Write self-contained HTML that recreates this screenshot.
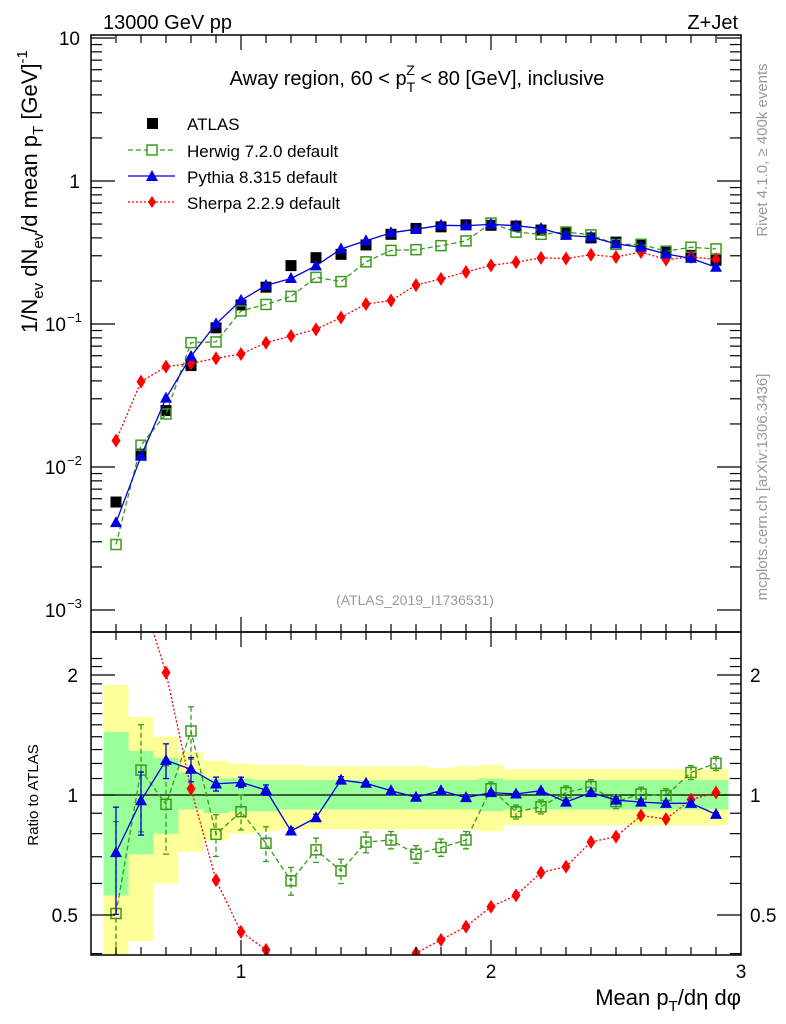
<!DOCTYPE html>
<html><head><meta charset="utf-8"><style>
html,body{margin:0;padding:0;background:#fff;overflow:hidden;width:786px;height:1024px;}
svg{display:block;font-family:"Liberation Sans",sans-serif;}
</style></head><body>
<svg id="chart" width="786" height="1024" viewBox="0 0 786 1024" xmlns="http://www.w3.org/2000/svg">
<g id="bands"></g>
<g id="mainmarks"></g>
<g id="ratiomarks"></g>
<g id="axes"></g>
<text x="103" y="29" font-size="20">13000 GeV pp</text>
<text x="738" y="29" font-size="20" text-anchor="end">Z+Jet</text>
<text x="417" y="85" font-size="20" text-anchor="middle">Away region, 60 &lt; p<tspan font-size="14" dy="7">T</tspan><tspan font-size="14" dx="-9" dy="-17">Z</tspan><tspan dy="10"> &lt; 80 [GeV], inclusive</tspan></text>
<g font-size="17">
<rect x="147" y="118" width="11" height="11" fill="#000"/>
<text x="187" y="130">ATLAS</text>
<line x1="128" y1="150" x2="175" y2="150" stroke="#3a9a1a" stroke-width="1.3" stroke-dasharray="5,3"/>
<rect x="147" y="145" width="10" height="10" fill="#fff" stroke="#3a9a1a" stroke-width="1.5"/>
<text x="187" y="157">Herwig 7.2.0 default</text>
<line x1="128" y1="176" x2="175" y2="176" stroke="#0000e0" stroke-width="1.3"/>
<polygon points="152,170 158,181 146,181" fill="#0000e0"/>
<text x="187" y="183">Pythia 8.315 default</text>
<line x1="128" y1="202" x2="175" y2="202" stroke="#f00" stroke-width="1.3" stroke-dasharray="2,2"/>
<polygon points="152,196 156,202 152,208 148,202" fill="#f00"/>
<text x="187" y="209">Sherpa 2.2.9 default</text>
</g>
<text x="415" y="605" font-size="14" fill="#999" text-anchor="middle">(ATLAS_2019_I1736531)</text>
<text transform="translate(767,150) rotate(-90)" font-size="15" fill="#999" text-anchor="middle">Rivet 4.1.0, ≥ 400k events</text>
<text transform="translate(767,487) rotate(-90)" font-size="15" fill="#999" text-anchor="middle">mcplots.cern.ch [arXiv:1306.3436]</text>
<text transform="translate(37,333) rotate(-90)" font-size="22">1/N<tspan font-size="15" dy="6">ev</tspan><tspan dy="-6"> dN</tspan><tspan font-size="15" dy="6">ev</tspan><tspan dy="-6">/d mean p</tspan><tspan font-size="15" dy="6">T</tspan><tspan dy="-6">  [GeV]</tspan><tspan font-size="15" dy="-10">-1</tspan></text>
<text transform="translate(38,795) rotate(-90)" font-size="15" text-anchor="middle">Ratio to ATLAS</text>
<text x="741" y="1005" font-size="22" text-anchor="end">Mean p<tspan font-size="15" dy="6">T</tspan><tspan dy="-6">/dη dφ</tspan></text>
</svg>
<script>
const xVals=[0.5,0.6,0.7,0.8,0.9,1.0,1.1,1.2,1.3,1.4,1.5,1.6,1.7,1.8,1.9,2.0,2.1,2.2,2.3,2.4,2.5,2.6,2.7,2.8,2.9];
const atlasVals=[0.00569,0.0123,0.0248,0.0512,0.094,0.136,0.181,0.256,0.291,0.307,0.357,0.424,0.466,0.478,0.494,0.49,0.484,0.454,0.434,0.40,0.374,0.359,0.324,0.302,0.279];
const herwigVals=[0.00287,0.0142,0.0235,0.0741,0.0749,0.1235,0.137,0.156,0.212,0.198,0.272,0.327,0.331,0.353,0.381,0.508,0.439,0.424,0.440,0.420,0.360,0.361,0.323,0.344,0.335];
const pythiaVals=[0.00408,0.0119,0.0303,0.0594,0.1002,0.1463,0.1862,0.2079,0.2552,0.3346,0.382,0.4346,0.46,0.49,0.4866,0.4969,0.4869,0.4654,0.4166,0.4056,0.3632,0.3446,0.3088,0.2878,0.2494];
const sherpaVals=[0.0153,0.0395,0.0503,0.0531,0.0575,0.0617,0.074,0.0824,0.0918,0.111,0.138,0.146,0.187,0.207,0.231,0.257,0.271,0.290,0.287,0.305,0.294,0.319,0.282,0.294,0.283];
const herwigRelErr=[0.7,0.3,0.25,0.15,0.12,0.1,0.1,0.08,0.07,0.07,0.06,0.05,0.05,0.05,0.05,0.04,0.04,0.04,0.04,0.04,0.04,0.04,0.04,0.04,0.04];
const pythiaRelErr=[0.3,0.18,0.1,0.07,0.04,0.03,0.03,0.02,0.02,0.02,0.01,0.01,0.01,0.01,0.01,0.01,0.01,0.01,0.01,0.01,0.01,0.01,0.01,0.01,0.01];
const yellowHi=[1.89,1.57,1.40,1.28,1.22,1.20,1.19,1.19,1.18,1.18,1.18,1.18,1.18,1.17,1.18,1.19,1.16,1.16,1.16,1.16,1.16,1.16,1.16,1.16,1.16];
const yellowLo=[0.30,0.43,0.60,0.72,0.77,0.80,0.81,0.82,0.82,0.82,0.82,0.82,0.82,0.82,0.82,0.81,0.84,0.84,0.84,0.84,0.84,0.84,0.84,0.84,0.84];
const greenHi=[1.44,1.29,1.24,1.14,1.10,1.10,1.09,1.09,1.09,1.09,1.09,1.09,1.09,1.09,1.09,1.10,1.09,1.09,1.09,1.09,1.09,1.09,1.09,1.09,1.09];
const greenLo=[0.56,0.71,0.80,0.92,0.90,0.91,0.91,0.92,0.92,0.92,0.92,0.92,0.92,0.92,0.92,0.91,0.92,0.92,0.92,0.92,0.92,0.92,0.92,0.92,0.92];
const mainTickLabels=["10","1","10","10","10"];
const ratioTickVals=[2,1,0.5];
const xTickVals=[1,2,3];

const NS="http://www.w3.org/2000/svg";
const L=91,R=741,T=35,MB=632,RB=955;
const X=v=>L+(v-0.4)*250;
const Y=v=>181-143*Math.log10(v);
const RY=r=>795-120*Math.log2(r);
function mk(tag,attrs,parent){const e=document.createElementNS(NS,tag);for(const k in attrs)e.setAttribute(k,attrs[k]);parent.appendChild(e);return e;}
const bands=document.getElementById('bands'),mm=document.getElementById('mainmarks'),rm=document.getElementById('ratiomarks'),ax=document.getElementById('axes');
const clip=mk('clipPath',{id:'cm'},mk('defs',{},document.getElementById('chart')));mk('rect',{x:L,y:T,width:R-L,height:MB-T},clip);
const clip2=mk('clipPath',{id:'cr'},document.querySelector('defs'));mk('rect',{x:L,y:MB,width:R-L,height:RB-MB},clip2);
bands.setAttribute('clip-path','url(#cr)');rm.setAttribute('clip-path','url(#cr)');mm.setAttribute('clip-path','url(#cm)');
const clampR=y=>Math.min(RB,Math.max(MB,y));

xVals.forEach((x,i)=>{
 const a=X(x-0.05),w=25;
 const y1=clampR(RY(yellowHi[i])),y2=clampR(RY(yellowLo[i]));
 const yb=mk('rect',{x:a,y:y1,width:w,height:y2-y1,fill:'#ffff99'},bands);
 
 
 const g1=clampR(RY(greenHi[i])),g2=clampR(RY(greenLo[i]));
 const gb=mk('rect',{x:a,y:g1,width:w,height:g2-g1,fill:'#99ff99'},bands);
 
 
});
mk('line',{x1:L,y1:RY(1),x2:R,y2:RY(1),stroke:'#000','stroke-width':1.3},rm);

function series(vals,color,dash,marker,errs,name,ratio,parent){
 const yf=ratio?(i=>RY(vals[i]/atlasVals[i])):(i=>Y(vals[i]));
 const pts=xVals.map((x,i)=>X(x).toFixed(1)+','+yf(i).toFixed(1)).join(' ');
 const pl=mk('polyline',{points:pts,fill:'none',stroke:color,'stroke-width':1.3},parent);
 if(dash)pl.setAttribute('stroke-dasharray',dash);
 
 
 xVals.forEach((x,i)=>{
  const cx=X(x),cy=yf(i);
  if(errs){const v=ratio?vals[i]/atlasVals[i]:vals[i];const f=ratio?RY:Y;
   const y1=clampR(f(v*(1+errs[i]))),y2=clampR(f(Math.max(v*(1-errs[i]),0.1)));
   const el=mk('line',{x1:cx,y1:y1,x2:cx,y2:y2,stroke:color,'stroke-width':1.3},parent);
   if(dash)el.setAttribute('stroke-dasharray',dash);
   
   
   mk('line',{x1:cx-3,y1:y1,x2:cx+3,y2:y1,stroke:color,'stroke-width':1.3},parent);
   mk('line',{x1:cx-3,y1:y2,x2:cx+3,y2:y2,stroke:color,'stroke-width':1.3},parent);}
  let m;
  if(marker==='sq')m=mk('rect',{x:cx-5.5,y:cy-5.5,width:11,height:11,fill:'#000'},parent);
  else if(marker==='osq')m=mk('rect',{x:cx-5,y:cy-5,width:10,height:10,fill:'#fff','fill-opacity':0,stroke:color,'stroke-width':1.5},parent);
  else if(marker==='tri')m=mk('polygon',{points:`${cx},${cy-6.5} ${cx+6},${cy+4.5} ${cx-6},${cy+4.5}`,fill:color},parent);
  else m=mk('polygon',{points:`${cx},${cy-7} ${cx+4.5},${cy} ${cx},${cy+7} ${cx-4.5},${cy}`,fill:color},parent);
  
  
 });
 if(marker==='sq')pl.remove();
}
series(atlasVals,'#000',null,'sq',null,'atlas',false,mm);
series(herwigVals,'#3a9a1a','5,3','osq',null,'herwig',false,mm);
series(sherpaVals,'#f00','2,2','dia',null,'sherpa',false,mm);
series(pythiaVals,'#0000e0',null,'tri',null,'pythia',false,mm);
series(herwigVals,'#3a9a1a','5,3','osq',herwigRelErr,'herwig-ratio',true,rm);
series(sherpaVals,'#f00','2,2','dia',null,'sherpa-ratio',true,rm);
series(pythiaVals,'#0000e0',null,'tri',pythiaRelErr,'pythia-ratio',true,rm);

mk('rect',{x:L,y:T,width:R-L,height:MB-T,fill:'none',stroke:'#000','stroke-width':1.5},ax);
mk('rect',{x:L,y:MB,width:R-L,height:RB-MB,fill:'none',stroke:'#000','stroke-width':1.5},ax);
function tk(x1,y1,x2,y2){mk('line',{x1,y1,x2,y2,stroke:'#000','stroke-width':1.2},ax);}
for(let d=-3;d<=1;d++){for(let k=1;k<=9;k++){const v=k*Math.pow(10,d);if(v>10.01)continue;const y=Y(v);if(y<T||y>MB)continue;const len=k===1?24:11;tk(L,y,L+len,y);tk(R,y,R-len,y);}}
const exps=[null,null,"−1","−2","−3"];
[10,1,0.1,0.01,0.001].forEach((v,i)=>{const t=mk('text',{x:exps[i]?66:80,y:Y(v)+7,'font-size':19,'text-anchor':'end'},ax);t.textContent=mainTickLabels[i];
 
 
 if(exps[i]){const s=mk('text',{x:67,y:Y(v)-2,'font-size':13},ax);s.textContent=exps[i];
 
 }});
[0.4,0.5,0.6,0.7,0.8,0.9,1,1.1,1.2,1.3,1.4,1.5,1.6,1.7,1.8,1.9,2,2.1,2.2].forEach(v=>{const y=RY(v);if(y<MB||y>RB)return;const maj=[0.5,1,2].includes(v);const len=maj?24:11;tk(L,y,L+len,y);tk(R,y,R-len,y);});
ratioTickVals.forEach(v=>{const t=mk('text',{x:78,y:RY(v)+7,'font-size':19,'text-anchor':'end'},ax);t.textContent=String(v);
 
 
 const t2=mk('text',{x:750,y:RY(v)+7,'font-size':19},ax);t2.textContent=String(v);
 
 });
for(let k=5;k<=29;k++){const v=k/10;const x=X(v);const maj=k%10===0;const len=maj?15:8;
 tk(x,MB,x,MB-len);tk(x,T,x,T+len);tk(x,RB,x,RB-len);tk(x,MB,x,MB+len);}
xTickVals.forEach(v=>{const t=mk('text',{x:X(v),y:978,'font-size':19,'text-anchor':'middle'},ax);t.textContent=String(v);
 
 });
</script>
</body></html>
